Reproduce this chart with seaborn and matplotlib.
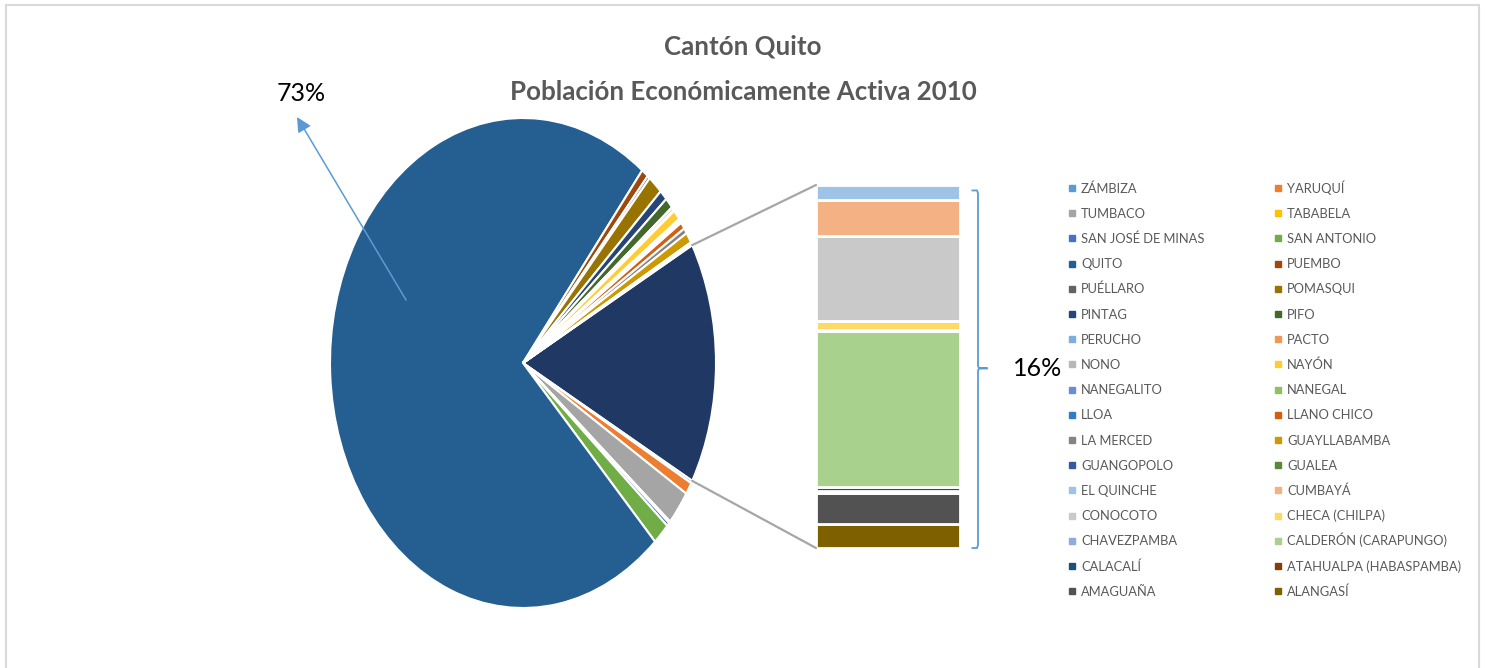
import numpy as np
import matplotlib
matplotlib.use("Agg")
import matplotlib.pyplot as plt
import matplotlib.transforms as mtransforms
from matplotlib.patches import ConnectionPatch, Rectangle
from matplotlib.lines import Line2D
import seaborn as sns

# parroquias del cantón, en el orden de la tabla (Z -> A)
parroquias = ["ZÁMBIZA", "YARUQUÍ", "TUMBACO", "TABABELA", "SAN JOSÉ DE MINAS", "SAN ANTONIO",
              "QUITO", "PUEMBO", "PUÉLLARO", "POMASQUI", "PINTAG", "PIFO",
              "PERUCHO", "PACTO", "NONO", "NAYÓN", "NANEGALITO", "NANEGAL",
              "LLOA", "LLANO CHICO", "LA MERCED", "GUAYLLABAMBA", "GUANGOPOLO", "GUALEA",
              "EL QUINCHE", "CUMBAYÁ", "CONOCOTO", "CHECA (CHILPA)", "CHAVEZPAMBA",
              "CALDERÓN (CARAPUNGO)", "CALACALÍ", "ATAHUALPA (HABASPAMBA)", "AMAGUAÑA", "ALANGASÍ"]

# PEA estimada (personas)
pea = [1900, 8600, 24500, 1300, 2600, 15600,
       788000, 6400, 2300, 13500, 7400, 7800,
       350, 2100, 800, 7200, 1400, 1100,
       700, 4900, 3900, 7500, 1400, 900,
       7400, 16900, 40700, 4500, 400,
       74500, 1800, 900, 14600, 11700]

colores = ["#5B9BD5", "#ED7D31", "#A5A5A5", "#FFC000", "#4472C4", "#70AD47",
           "#255E91", "#9E480E", "#636363", "#997300", "#264478", "#43682B",
           "#7CAFDD", "#F1975A", "#B7B7B7", "#FFCD33", "#698ED0", "#8CC168",
           "#327DC2", "#D26012", "#848484", "#CC9A00", "#335AA1", "#5A8A39",
           "#9DC3E6", "#F4B183", "#C9C9C9", "#FFD966", "#8FAADC", "#A9D18E",
           "#1F4E79", "#843C0C", "#525252", "#7F6000"]
color_otros = "#203864"

N_BARRA = 10  # las ultimas 10 parroquias van a la barra

sns.set_theme(style="white")
plt.rcParams["font.family"] = ["Lato", "DejaVu Sans"]

W, H = 1485, 668
fig = plt.figure(figsize=(W / 100, H / 100), dpi=100)
fig.patch.set_facecolor("white")

total = sum(pea)
pie_vals = pea[:-N_BARRA]
bar_vals = pea[-N_BARRA:]
otros = sum(bar_vals)

# ---- pie ----
ax_pie = fig.add_axes([330 / W, (H - 608) / H, 386 / W, 490 / H])
ang_otros = 360 * otros / total
ax_pie.pie([otros] + pie_vals, colors=[color_otros] + colores[:-N_BARRA],
           startangle=ang_otros / 2, counterclock=False,
           wedgeprops=dict(edgecolor="white", linewidth=1.5))
ax_pie.set_aspect("auto")
ax_pie.set_xlim(-1, 1)
ax_pie.set_ylim(-1, 1)

# ---- barra ----
ax_bar = fig.add_axes([816 / W, (H - 548) / H, 144 / W, 363 / H])
base = 0
for v, c in zip(bar_vals[::-1], colores[-N_BARRA:][::-1]):
    ax_bar.bar(0, v, bottom=base, width=1, color=c, edgecolor="white", linewidth=2)
    base += v
ax_bar.set_xlim(-0.5, 0.5)
ax_bar.set_ylim(0, otros)
ax_bar.axis("off")

# lineas de union
a = np.deg2rad(ang_otros / 2)
for s, yb in [(1, otros), (-1, 0)]:
    con = ConnectionPatch(xyA=(np.cos(a), s * np.sin(a)), coordsA=ax_pie.transData,
                          xyB=(-0.5, yb), coordsB=ax_bar.transData,
                          color="#A6A6A6", lw=1.6)
    fig.add_artist(con)

# llave azul
tr = mtransforms.blended_transform_factory(ax_bar.transAxes, ax_bar.transData)
top, bot, mid = otros * 0.985, 0, otros * 0.495
bx = [1.085, 1.118, 1.125, 1.125, 1.132, 1.19, 1.132, 1.125, 1.125, 1.118, 1.085]
by = [top, top, top - otros * 0.008, mid + otros * 0.006, mid + otros * 0.001, mid,
      mid - otros * 0.001, mid - otros * 0.006, bot + otros * 0.008, bot, bot]
ax_bar.plot(bx, by, color="#5B9BD5", lw=1.3, transform=tr, clip_on=False)
ax_bar.text(1.54, mid, f"{100 * otros / total:.0f}%", transform=tr, ha="center",
            va="center", fontsize=18, color="black")

# etiqueta Quito
ax_pie.annotate("", xy=(-1.171, 1.004), xytext=(-0.606, 0.257), annotation_clip=False,
                arrowprops=dict(arrowstyle="-|>", color="#5B9BD5", lw=1.1,
                                mutation_scale=22, shrinkA=0, shrinkB=0))
ax_pie.text(-1.15, 1.10, f"{100 * pea[parroquias.index('QUITO')] / total:.0f}%",
            ha="center", va="center", fontsize=18, color="black")

# titulo
fig.text(0.5003, 1 - 55 / H, "Cantón Quito", ha="center", va="baseline",
         fontsize=18.6, fontweight="bold", color="#595959")
fig.text(0.5003, 1 - 100 / H, "Población Económicamente Activa 2010", ha="center",
         va="baseline", fontsize=18.6, fontweight="bold", color="#595959")

# leyenda en dos columnas, leida por filas
for i, (nombre, c) in enumerate(zip(parroquias, colores)):
    fila, col = divmod(i, 2)
    x_m = 1072 + 206 * col
    y_c = 188 + 25.2 * fila
    fig.add_artist(Line2D([x_m / W], [1 - y_c / H], marker="s", markersize=4.6, ls="none",
                          color=c, transform=fig.transFigure))
    fig.text((x_m + 9) / W, 1 - (y_c + 4.6) / H, nombre, ha="left", va="baseline",
             fontsize=9.3, color="#595959")

# borde del grafico
fig.add_artist(Rectangle((5.5 / W, -0.1), 1473.5 / W, 1.1 - 5.5 / H, transform=fig.transFigure,
                         fill=False, edgecolor="#D9D9D9", lw=1.5))

fig.savefig("out.png", dpi=100, facecolor="white")
